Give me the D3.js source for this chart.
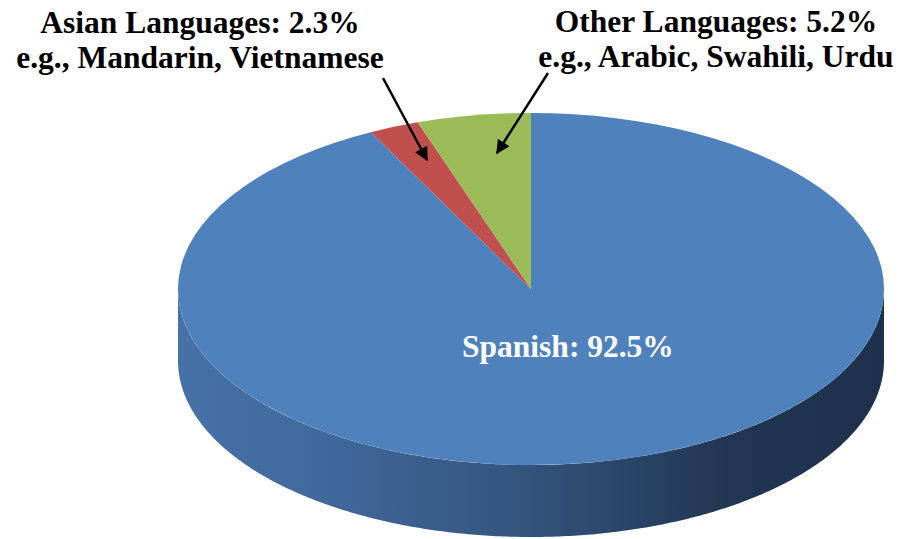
<!DOCTYPE html>
<html>
<head>
<meta charset="utf-8">
<script src="https://cdn.jsdelivr.net/npm/d3@7"></script>
<style>
  html, body { margin: 0; padding: 0; background: #fff; }
  svg { display: block; }
  .label { font-family: "Liberation Serif", "Times New Roman", serif; font-weight: bold; }
</style>
</head>
<body>
<div class="container"></div>
<script>
const categories = ["Spanish", "Asian Languages", "Other Languages"];
const shares = [92.5, 2.3, 5.2];
const examples = ["", "e.g., Mandarin, Vietnamese", "e.g., Arabic, Swahili, Urdu"];
const colors = ["#4f81bd", "#c0504d", "#9bbb59"];

const WIDTH = 905;
const HEIGHT = 539;
const CX = 531;
const CY = 289;
const RX = 353;
const RY = 176;
const DEPTH = 72;

const svg = d3
  .select(".container")
  .append("svg")
  .attr("width", WIDTH)
  .attr("height", HEIGHT);

// Side gradient, light on the left and dark on the right
const defs = svg.append("defs");
const grad = defs
  .append("linearGradient")
  .attr("id", "side")
  .attr("x1", "0%")
  .attr("x2", "100%")
  .attr("y1", "0%")
  .attr("y2", "0%");
[
  [0, "#4672a8"],
  [0.2, "#41699c"],
  [0.5, "#33537c"],
  [0.78, "#213652"],
  [1, "#1e314c"],
].forEach(([o, c]) => grad.append("stop").attr("offset", o).attr("stop-color", c));

const pie = d3
  .pie()
  .sort(null)
  .value((d) => d.value)
  .startAngle(0)
  .endAngle(2 * Math.PI);

const data = categories.map((c, i) => ({
  name: c,
  value: shares[i],
  example: examples[i],
  color: colors[i],
}));
const arcs = pie(data);

// point on the ellipse (angle from 12 o'clock, clockwise)
const project = (a, r = 1, dy = 0) => [
  CX + RX * r * Math.sin(a),
  CY - RY * r * Math.cos(a) + dy,
];

// Side walls: only the front half (pi/2 .. 3pi/2) is visible
arcs.forEach((d) => {
  const a0 = Math.max(d.startAngle, Math.PI / 2);
  const a1 = Math.min(d.endAngle, (3 * Math.PI) / 2);
  if (a1 <= a0) return;
  const steps = d3.range(a0, a1, 0.01).concat([a1]);
  const top = steps.map((a) => project(a));
  const bottom = steps.map((a) => project(a, 1, DEPTH)).reverse();
  svg
    .append("path")
    .attr("d", d3.line()(top.concat(bottom)) + "Z")
    .attr("fill", d.index === 0 ? "url(#side)" : d3.color(d.data.color).darker(1));
});

// Top face: d3.arc squashed into an ellipse
const arc = d3.arc().innerRadius(0).outerRadius(RX);
svg
  .append("g")
  .attr("transform", `translate(${CX},${CY}) scale(1,${RY / RX})`)
  .selectAll("path")
  .data(arcs)
  .join("path")
  .attr("d", arc)
  .attr("fill", (d) => d.data.color);

// Spanish label inside the slice
const big = arcs[0];
const mid = (big.startAngle + big.endAngle) / 2;
const [lx, ly] = project(mid, 0.4);
svg
  .append("text")
  .attr("class", "label")
  .attr("x", lx + 4)
  .attr("y", ly)
  .attr("text-anchor", "middle")
  .attr("fill", "#fff")
  .style("font-size", "31.5px")
  .text(`${big.data.name}: ${big.data.value}%`);

// Callout labels with arrows for the small slices
const callouts = [
  { index: 1, x: 200, y: 33, from: [383, 78], to: [427, 160] },
  { index: 2, x: 716, y: 32, from: [548, 73], to: [497, 153] },
];

defs
  .append("marker")
  .attr("id", "head")
  .attr("viewBox", "0 0 10 10")
  .attr("refX", 9)
  .attr("refY", 5)
  .attr("markerWidth", 6)
  .attr("markerHeight", 5.5)
  .attr("markerUnits", "strokeWidth")
  .attr("orient", "auto")
  .append("path")
  .attr("d", "M0,0L10,5L0,10Z")
  .attr("fill", "#000");

callouts.forEach((c) => {
  const d = arcs[c.index].data;
  const t = svg
    .append("text")
    .attr("class", "label")
    .attr("text-anchor", "middle")
    .attr("fill", "#000")
    .style("font-size", "31.5px");
  t.append("tspan").attr("x", c.x).attr("y", c.y).text(`${d.name}: ${d.value}%`);
  t.append("tspan").attr("x", c.x).attr("y", c.y + 35).text(d.example);

  svg
    .append("line")
    .attr("x1", c.from[0])
    .attr("y1", c.from[1])
    .attr("x2", c.to[0])
    .attr("y2", c.to[1])
    .attr("stroke", "#000")
    .attr("stroke-width", 2.5)
    .attr("marker-end", "url(#head)");
});
</script>
</body>
</html>
